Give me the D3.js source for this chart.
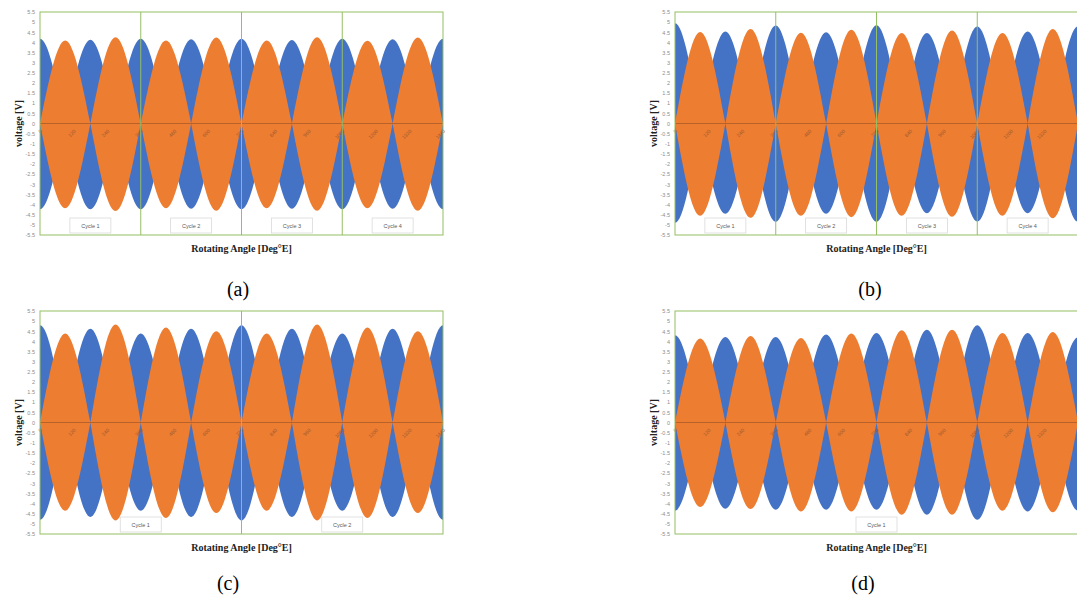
<!DOCTYPE html>
<html>
<head>
<meta charset="utf-8">
<script src="https://cdn.jsdelivr.net/npm/d3@7"></script>
<style>
  body { margin: 0; background: #fff; }
  svg { display: block; }
</style>
</head>
<body>
<div class="wrap"></div>
<script>
// angles (deg E) of the tick labels and lobe peaks
const tickAngles = [0, 120, 240, 360, 480, 600, 720, 840, 960, 1080, 1200, 1320, 1440]
const blueAngles = [0, 180, 360, 540, 720, 900, 1080, 1260, 1440]
const orangeAngles = [90, 270, 450, 630, 810, 990, 1170, 1350]
const yTicks = [5.5, 5, 4.5, 4, 3.5, 3, 2.5, 2, 1.5, 1, 0.5, 0, -0.5, -1, -1.5, -2, -2.5, -3, -3.5, -4, -4.5, -5, -5.5]

// peak voltages (top = positive peak, bot = negative peak)
const blueTopA = [4.18, 4.13, 4.18, 4.15, 4.18, 4.12, 4.18, 4.15, 4.18]
const blueBotA = [-4.23, -4.23, -4.23, -4.2, -4.23, -4.2, -4.23, -4.2, -4.23]
const orangeTopA = [4.09, 4.26, 4.09, 4.24, 4.1, 4.25, 4.08, 4.24]
const orangeBotA = [-4.18, -4.32, -4.18, -4.3, -4.18, -4.3, -4.18, -4.3]

const blueTopB = [4.95, 4.54, 4.84, 4.5, 4.85, 4.46, 4.79, 4.54, 4.8]
const blueBotB = [-4.9, -4.45, -4.85, -4.45, -4.85, -4.43, -4.84, -4.43, -4.85]
const orangeTopB = [4.51, 4.66, 4.48, 4.62, 4.46, 4.59, 4.46, 4.66]
const orangeBotB = [-4.55, -4.65, -4.55, -4.62, -4.55, -4.6, -4.55, -4.67]

const blueTopC = [4.8, 4.63, 4.39, 4.63, 4.8, 4.63, 4.39, 4.63, 4.8]
const blueBotC = [-4.8, -4.66, -4.35, -4.66, -4.83, -4.66, -4.35, -4.66, -4.8]
const orangeTopC = [4.39, 4.83, 4.68, 4.5, 4.39, 4.83, 4.68, 4.5]
const orangeBotC = [-4.35, -4.83, -4.71, -4.47, -4.35, -4.83, -4.71, -4.47]

const blueTopD = [4.3, 4.22, 4.22, 4.34, 4.42, 4.58, 4.8, 4.42, 4.2]
const blueBotD = [-4.35, -4.25, -4.3, -4.3, -4.3, -4.55, -4.8, -4.39, -4.35]
const orangeTopD = [4.14, 4.27, 4.17, 4.39, 4.55, 4.58, 4.42, 4.47]
const orangeBotD = [-4.17, -4.27, -4.39, -4.39, -4.55, -4.55, -4.35, -4.43]

const cycleEdgesA = [0, 360, 720, 1080, 1440]
const cycleEdgesC = [0, 720, 1440]
const cycleEdgesD = [0, 1440]

const blue = '#4472c4'
const orange = '#ed7d31'
const green = '#94bf63'

let svg = d3.select('.wrap')
.append('svg')
.attr('width', 1077)
.attr('height', 600)

svg.append('rect').attr('width', 1077).attr('height', 600).attr('fill', '#fff')

let panels = [
	{id: 'a', left: 40, top: 12, bottom: 235, bt: blueTopA, bb: blueBotA, ot: orangeTopA, ob: orangeBotA, edges: cycleEdgesA, cap: [238, 296]},
	{id: 'b', left: 675, top: 12, bottom: 235, bt: blueTopB, bb: blueBotB, ot: orangeTopB, ob: orangeBotB, edges: cycleEdgesA, cap: [870, 296]},
	{id: 'c', left: 40, top: 311, bottom: 534, bt: blueTopC, bb: blueBotC, ot: orangeTopC, ob: orangeBotC, edges: cycleEdgesC, cap: [228, 590]},
	{id: 'd', left: 675, top: 311, bottom: 534, bt: blueTopD, bb: blueBotD, ot: orangeTopD, ob: orangeBotD, edges: cycleEdgesD, cap: [863, 590]}
]

const plotW = 403

panels.forEach(p => {
	let x = d3.scaleLinear().domain([0, 1440]).range([p.left, p.left + plotW])
	let y = d3.scaleLinear().domain([-5.5, 5.5]).range([p.bottom, p.top])

	let g = svg.append('g')

	g.append('clipPath').attr('id', 'clip-' + p.id)
	.append('rect')
	.attr('x', p.left).attr('y', p.top)
	.attr('width', plotW).attr('height', p.bottom - p.top)

	// one lobe = zero, peak, zero; monotone curve gives the half-sine look
	let area = d3.area()
	.x(d => x(d.a))
	.y0(d => y(d.lo))
	.y1(d => y(d.hi))
	.curve(d3.curveMonotoneX)

	function lobes(angles, tops, bots) {
		return angles.map((a, i) => [
			{a: a - 90, hi: 0, lo: 0},
			{a: a, hi: tops[i], lo: bots[i]},
			{a: a + 90, hi: 0, lo: 0}
		])
	}

	let marks = g.append('g').attr('clip-path', 'url(#clip-' + p.id + ')')

	marks.selectAll('path.blue')
	.data(lobes(blueAngles, p.bt, p.bb))
	.enter()
	.append('path')
	.attr('class', 'blue')
	.attr('d', area)
	.attr('fill', blue)

	marks.selectAll('path.orange')
	.data(lobes(orangeAngles, p.ot, p.ob))
	.enter()
	.append('path')
	.attr('class', 'orange')
	.attr('d', area)
	.attr('fill', orange)

	// zero line
	g.append('line')
	.attr('x1', x(0)).attr('x2', x(1440))
	.attr('y1', y(0)).attr('y2', y(0))
	.attr('stroke', '#b8622a')
	.attr('stroke-width', 1)

	// x tick labels along the zero line (the right panels run off the page edge)
	let shown = tickAngles.filter(a => x(a) < 1068)
	let xAxis = g.append('g')
	.attr('transform', 'translate(0,' + y(0) + ')')
	.call(d3.axisBottom(x).tickValues(shown).tickSize(0).tickFormat(d => String(d)))
	xAxis.select('.domain').remove()
	xAxis.selectAll('text')
	.attr('font-family', 'Liberation Sans, sans-serif')
	.attr('font-size', 5)
	.attr('fill', '#9a5a30')
	.attr('text-anchor', 'end')
	.attr('dy', 0)
	.attr('y', 0)
	.attr('transform', 'translate(2,8) rotate(-45)')

	// cycle boundaries
	g.selectAll('line.cyc')
	.data(p.edges.slice(1, -1))
	.enter()
	.append('line')
	.attr('class', 'cyc')
	.attr('x1', d => x(d)).attr('x2', d => x(d))
	.attr('y1', p.top).attr('y2', p.bottom)
	.attr('stroke', green)
	.attr('stroke-width', 1)

	// cycle label boxes
	let cyc = g.selectAll('g.cl')
	.data(p.edges.slice(0, -1).map((e, i) => ({mid: (e + p.edges[i + 1]) / 2, label: 'Cycle ' + (i + 1)})))
	.enter()
	.append('g')
	.attr('class', 'cl')

	cyc.append('rect')
	.attr('x', d => x(d.mid) - 20.5)
	.attr('y', p.bottom - 17)
	.attr('width', 41)
	.attr('height', 15)
	.attr('fill', '#fff')
	.attr('stroke', '#d9d9d9')
	.attr('stroke-width', 0.8)

	cyc.append('text')
	.attr('x', d => x(d.mid))
	.attr('y', p.bottom - 7.5)
	.attr('text-anchor', 'middle')
	.attr('font-family', 'Liberation Sans, sans-serif')
	.attr('font-size', 5.5)
	.attr('fill', '#595959')
	.text(d => d.label)

	// plot frame
	g.append('rect')
	.attr('x', p.left).attr('y', p.top)
	.attr('width', plotW).attr('height', p.bottom - p.top)
	.attr('fill', 'none')
	.attr('stroke', green)
	.attr('stroke-width', 1)

	// y axis labels
	let yAxis = g.append('g')
	.attr('transform', 'translate(' + (p.left - 5) + ',0)')
	.call(d3.axisLeft(y).tickValues(yTicks).tickSize(0).tickFormat(d => String(d)))
	yAxis.select('.domain').remove()
	yAxis.selectAll('text')
	.attr('font-family', 'Liberation Sans, sans-serif')
	.attr('font-size', 5.5)
	.attr('fill', '#8c8c8c')
	.attr('x', 0)

	// axis titles
	g.append('text')
	.attr('transform', 'translate(' + (p.left - 18) + ',' + y(0) + ') rotate(-90)')
	.attr('text-anchor', 'middle')
	.attr('font-family', 'Liberation Serif, serif')
	.attr('font-weight', 'bold')
	.attr('font-size', 10)
	.attr('fill', '#222')
	.text('voltage [V]')

	g.append('text')
	.attr('x', p.left + plotW / 2)
	.attr('y', p.bottom + 16.5)
	.attr('text-anchor', 'middle')
	.attr('font-family', 'Liberation Serif, serif')
	.attr('font-weight', 'bold')
	.attr('font-size', 10)
	.attr('fill', '#222')
	.text('Rotating Angle [Deg°E]')

	// panel caption
	g.append('text')
	.attr('x', p.cap[0])
	.attr('y', p.cap[1])
	.attr('text-anchor', 'middle')
	.attr('font-family', 'Liberation Serif, serif')
	.attr('font-size', 20)
	.attr('fill', '#000')
	.text('(' + p.id + ')')
})
</script>
</body>
</html>
